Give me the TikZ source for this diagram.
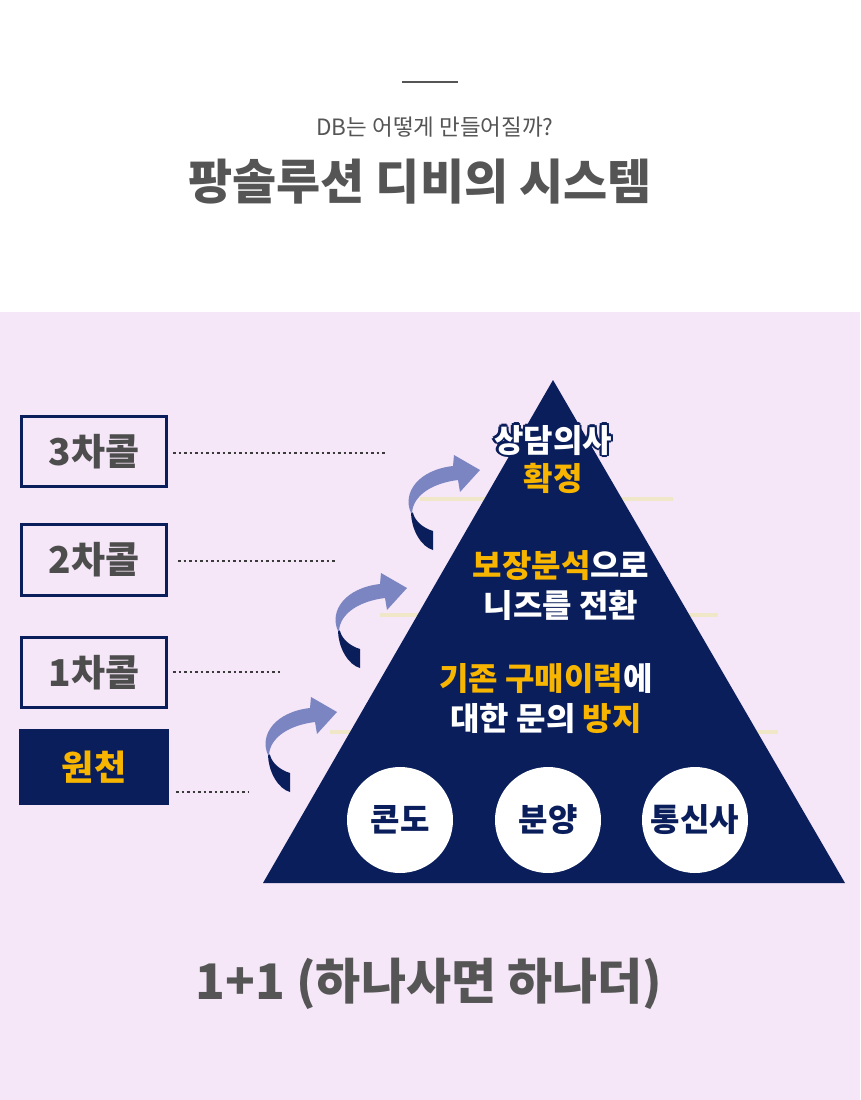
\documentclass[tikz,border=0pt]{standalone}
\usepackage{fontspec}
\setmainfont{Noto Sans CJK KR}
\definecolor{navy}{HTML}{0A1E5B}
\definecolor{lav}{HTML}{F5E6F8}
\definecolor{gold}{HTML}{F7B500}
\definecolor{txtgray}{HTML}{555555}
\definecolor{boxgray}{HTML}{4D4D4D}
\definecolor{arrlight}{HTML}{7A85C1}
\definecolor{beige}{HTML}{F0E6C8}
\definecolor{dotgray}{HTML}{3A3A3A}
\tikzset{
  basetext/.style={inner sep=0pt, anchor=base},
  ptext/.style={basetext, text=white, font=\fontsize{32}{34}\selectfont\bfseries},
  callbox/.style={draw=navy, line width=3pt, fill=lav, minimum width=145pt, minimum height=70pt, inner sep=0pt, text=boxgray, font=\fontsize{37}{39}\selectfont\bfseries},
  dotline/.style={draw=dotgray, line width=2.5pt, dash pattern=on 2.5pt off 3pt},
  beigeline/.style={draw=beige, line width=4pt},
  circ/.style={circle, fill=white, minimum size=106pt, inner sep=0pt, text=navy, font=\fontsize{32}{34}\selectfont\bfseries},
}
\newcommand{\ribbonarrow}[1]{%
  \begin{scope}[shift={#1}]
    \fill[navy] (3,8) .. controls (3,28) and (14,44) .. (25,47) -- (25,28) .. controls (15,25) and (7,18) .. (5,10) -- cycle;
    \fill[arrlight] (3,10) .. controls (-6,-10) and (10,-33) .. (45,-37) -- (46,-48) -- (72,-33) -- (52,-11) -- (50,-23) .. controls (25,-20) and (5,-8) .. (4,10) -- cycle;
  \end{scope}}
\begin{document}
\begin{tikzpicture}[x=1pt,y=-1pt]
\useasboundingbox (0,0) rectangle (860,1100);
\fill[white] (0,0) rectangle (860,312);
\fill[lav] (0,312) rectangle (860,1100);

% header
\coordinate (hl1) at (402,82);
\coordinate (hl2) at (458,82);
\draw[txtgray, line width=2pt] (hl1) -- (hl2);
\node[basetext, text=txtgray, font=\fontsize{22.5}{24}\selectfont] (sub) at (435,135) {DB는 어떻게 만들어질까?};
\node[basetext, text=txtgray, font=\fontsize{48}{50}\selectfont\bfseries] (title) at (420,199) {팡솔루션 디비의 시스템};

% beige lines behind pyramid
\coordinate (bl1a) at (420,499); \coordinate (bl1b) at (673,499);
\coordinate (bl2a) at (380,615); \coordinate (bl2b) at (718,615);
\coordinate (bl3a) at (330,732); \coordinate (bl3b) at (778,732);
\draw[beigeline] (bl1a) -- (bl1b);
\draw[beigeline] (bl2a) -- (bl2b);
\draw[beigeline] (bl3a) -- (bl3b);

% pyramid
\coordinate (apex) at (553,380);
\coordinate (br) at (845,883);
\coordinate (bll) at (263,883);
\fill[navy] (apex) -- (br) -- (bll) -- cycle;

% arrows
\ribbonarrow{(265,745)}
\ribbonarrow{(335,621)}
\ribbonarrow{(408,503)}

% left boxes
\node[callbox] (b3) at (94,451.5) {3차콜};
\node[callbox, minimum height=71pt] (b2) at (94,560) {2차콜};
\node[callbox] (b1) at (94,672.5) {1차콜};
\node[callbox, draw=none, fill=navy, minimum width=150pt, minimum height=76pt, text=gold, font=\fontsize{35}{37}\selectfont\bfseries] (b0) at (94,767) {원천};

% dotted leaders
\coordinate (d3s) at (173,453); \coordinate (d3e) at (387,453);
\coordinate (d2s) at (178,561); \coordinate (d2e) at (336,561);
\coordinate (d1s) at (173,672); \coordinate (d1e) at (280,672);
\coordinate (d0s) at (176,792); \coordinate (d0e) at (248,792);
\draw[dotline] (d3s) -- (d3e);
\draw[dotline] (d2s) -- (d2e);
\draw[dotline] (d1s) -- (d1e);
\draw[dotline] (d0s) -- (d0e);

% pyramid texts (navy halo behind the white top line)
\foreach \dx/\dy [count=\k] in {-2.2/0,2.2/0,0/-2.2,0/2.2,-1.6/-1.6,1.6/-1.6,-1.6/1.6,1.6/1.6}
  \node[ptext, text=navy] (sdo\k) at ({553+\dx},{452+\dy}) {상담의사};
\node[ptext] (t3a) at (553,452) {상담의사};
\node[ptext, text=gold] (t3b) at (553,490) {확정};
\node[ptext] (t2a) at (561,577) {\textcolor{gold}{보장분석}으로};
\node[ptext] (t2b) at (561,617) {니즈를 전환};
\node[ptext] (t1a) at (546,690) {\textcolor{gold}{기존 구매이력}에};
\node[ptext] (t1b) at (546,730) {대한 문의 \textcolor{gold}{방지}};

% circles
\node[circ] (c1) at (400,820) {콘도};
\node[circ] (c2) at (548,820) {분양};
\node[circ] (c3) at (695,820) {통신사};

% bottom
\node[basetext, text=txtgray, font=\fontsize{49}{51}\selectfont\bfseries] (bottom) at (429,999) {1+1 (하나사면 하나더)};
\end{tikzpicture}
\end{document}
